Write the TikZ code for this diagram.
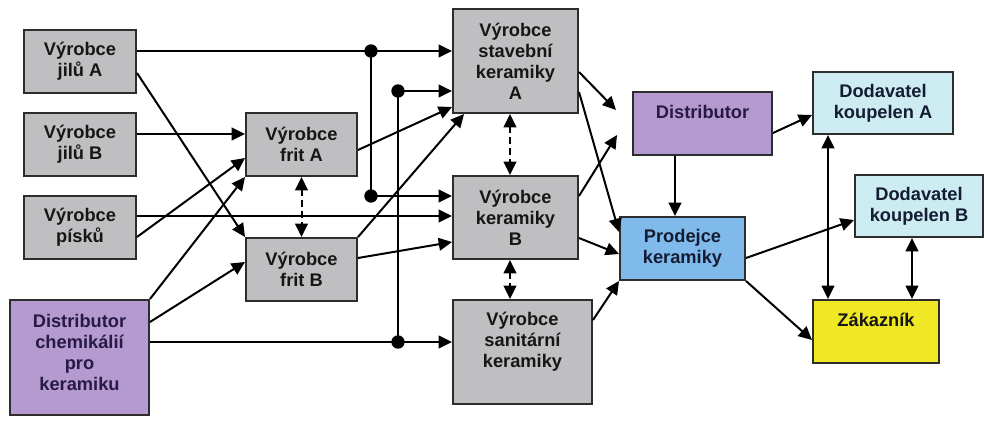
\documentclass[tikz,border=0pt]{standalone}
\usepackage{fontspec}
\setmainfont{Liberation Sans}
\usetikzlibrary{arrows.meta}

\definecolor{boxgrey}{RGB}{191,191,193}
\definecolor{boxpurple}{RGB}{180,154,206}
\definecolor{boxcyan}{RGB}{205,236,242}
\definecolor{boxblue}{RGB}{128,186,234}
\definecolor{boxyellow}{RGB}{240,232,36}
\definecolor{edge}{RGB}{45,45,45}
\definecolor{txtdark}{RGB}{22,22,22}
\definecolor{txtpurple}{RGB}{40,26,70}
\definecolor{txtnavy}{RGB}{20,28,52}

\tikzset{
  box/.style={draw=edge, line width=1.5pt, align=center, inner sep=0pt,
    font=\bfseries\fontsize{13.7}{15.75}\selectfont},
  greybox/.style={box, fill=boxgrey, text=txtdark},
  purplebox/.style={box, fill=boxpurple, text=txtpurple},
  cyanbox/.style={box, fill=boxcyan, text=txtnavy},
  bluebox/.style={box, fill=boxblue, text=txtnavy},
  yellowbox/.style={box, fill=boxyellow, text=txtdark},
  sz/.style 2 args={minimum width=#1*0.75pt, minimum height=#2*0.75pt},
  tip/.tip={Triangle[length=10pt,width=9.5pt]},
  arr/.style={-tip, line width=1.5pt, draw=black},
  plain/.style={line width=1.5pt, draw=black},
  darr/.style={tip-tip, line width=1.5pt, draw=black},
  dasharr/.style={tip-tip, line width=1.5pt, draw=black, dash pattern=on 5pt off 3pt},
  dot/.style={fill=black}
}

\begin{document}
\begin{tikzpicture}[x=0.75pt, y=-0.75pt]
\useasboundingbox (0,0) rectangle (984,423);

% suppliers of raw materials
\node[greybox, sz={112}{63}] (jilA)  at (80,61.5)  {Výrobce\\jilů A};
\node[greybox, sz={112}{63}] (jilB)  at (80,144.5) {Výrobce\\jilů B};
\node[greybox, sz={112}{63}] (pisku) at (80,227.5) {Výrobce\\písků};
\node[purplebox, sz={139}{115}, text depth=8pt] (chem) at (79.5,357.5)
  {Distributor\\chemikálií\\pro\\keramiku};

% frit producers
\node[greybox, sz={111}{63}] (fritA) at (301.5,144.5) {Výrobce\\frit A};
\node[greybox, sz={111}{63}] (fritB) at (301.5,269.5) {Výrobce\\frit B};

% ceramics producers
\node[greybox, sz={125}{104}] (stavA) at (515.5,61)  {Výrobce\\stavební\\keramiky\\A};
\node[greybox, sz={125}{83}]  (kerB)  at (515.5,217.5) {Výrobce\\keramiky\\B};
\node[greybox, sz={139}{104}, text depth=18pt] (sanit) at (522.5,352)
  {Výrobce\\sanitární\\keramiky};

% distribution and sales
\node[purplebox, sz={139}{63}, text depth=17pt] (dist) at (702.5,123.5) {Distributor};
\node[bluebox, sz={125}{63}] (prod) at (682.5,248.5) {Prodejce\\keramiky};
\node[cyanbox, sz={140}{62}] (dodA) at (883,103) {Dodavatel\\koupelen A};
\node[cyanbox, sz={128}{62}] (dodB) at (919,206) {Dodavatel\\koupelen B};
\node[yellowbox, sz={126}{63}, text depth=17pt] (zak) at (876,331.5) {Zákazník};

% junction points of the shared feed lines
\coordinate (j1) at (371,51);
\coordinate (j2) at (371,196);
\coordinate (j3) at (398,91);
\coordinate (j4) at (398,342);

\draw[plain] (jilA.east |- j1) -- (j1);
\draw[arr]   (j1) -- (stavA.west |- j1);
\draw[plain] (j1) -- (j2);
\draw[arr]   (j2) -- (kerB.west |- j2);
\draw[arr]   (j3) -- (stavA.west |- j3);
\draw[plain] (j3) -- (j4);
\draw[plain] (chem.east |- j4) -- (j4);
\draw[arr]   (j4) -- (sanit.west |- j4);
\foreach \j in {j1,j2,j3,j4} \fill[dot] (\j) circle (5pt);

% raw materials to producers
\draw[arr] (jilA.east |- 0,73) -- (fritB.north west);
\draw[arr] (jilB.east |- 0,134) -- (fritA.west |- 0,134);
\draw[arr] (pisku.east |- 0,216) -- (kerB.west |- 0,216);
\draw[arr] (pisku.east |- 0,237) -- (fritA.west |- 0,158);
\draw[arr] (chem.north east) -- (fritA.south west);
\draw[arr] (chem.east |- 0,322) -- (fritB.west |- 0,262);

% frits to ceramics producers
\draw[arr] (fritA.east |- 0,150) -- (stavA.west |- 0,107);
\draw[arr] (fritB.north east) -- ([xshift=9pt]stavA.south west);
\draw[arr] (fritB.east |- 0,258) -- (kerB.west |- 0,242);

% cooperation links
\draw[dasharr] (fritA.south) -- (fritB.north);
\draw[dasharr] (stavA.south -| 510,0) -- (kerB.north -| 510,0);
\draw[dasharr] (kerB.south -| 510,0) -- (sanit.north -| 510,0);

% ceramics to the market
\coordinate (inA) at ([shift={(-16,-13.5)}]dist.west);
\coordinate (inB) at ([shift={(-15,11.5)}]dist.west);
\draw[arr] (stavA.east |- 0,72) -- (inA);
\draw[arr] (kerB.east |- 0,196) -- (inB);
\draw[arr] (stavA.east |- 0,92) -- (prod.west |- 0,232);
\draw[arr] (kerB.east |- 0,238) -- (prod.west |- 0,254);
\draw[arr] (sanit.east |- 0,320) -- (prod.south west);
\draw[arr] (dist.south -| 675,0) -- (prod.north -| 675,0);
\draw[arr] (dist.east |- 0,133) -- (dodA.west |- 0,115);
\draw[arr] (prod.east |- 0,258) -- (dodB.west |- 0,220);
\draw[arr] (prod.south east) -- (zak.west |- 0,340);
\draw[darr] (dodA.south -| 828,0) -- (zak.north -| 828,0);
\draw[darr] (dodB.south -| 912,0) -- (zak.north -| 912,0);
\end{tikzpicture}
\end{document}
